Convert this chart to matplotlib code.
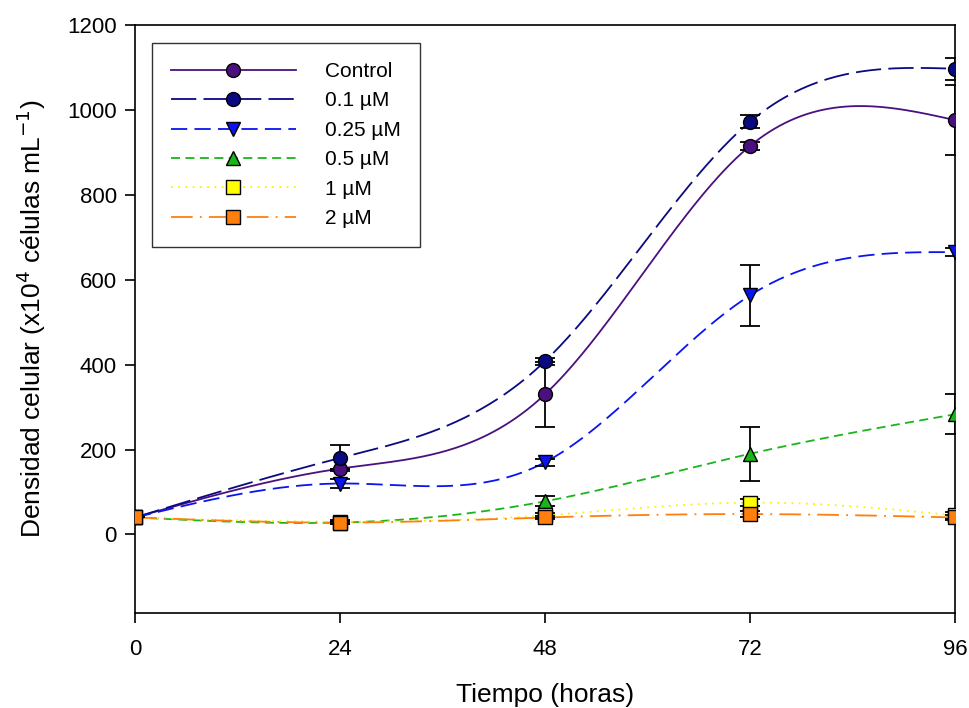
"""
Crecimiento celular bajo distintas concentraciones (curvas suavizadas con spline).
Writes: out.png
"""
import numpy as np
import matplotlib
matplotlib.use("Agg")
import matplotlib.pyplot as plt
from matplotlib.lines import Line2D

plt.rcParams["font.family"] = ["Liberation Sans", "DejaVu Sans"]

# Datos
horas = [0, 24, 48, 72, 96]
labels = ["Control", "0.1 µM", "0.25 µM", "0.5 µM", "1 µM", "2 µM"]

control = [40, 155, 330, 915, 976]
control_err = [0, 0, 77, 10, 82]
c01 = [40, 180, 408, 972, 1097]
c01_err = [0, 30, 8, 15, 26]
c025 = [40, 120, 170, 563, 665]
c025_err = [0, 10, 8, 71, 10]
c05 = [40, 28, 78, 190, 283]
c05_err = [0, 4, 12, 63, 47]
c1 = [40, 30, 45, 75, 45]
c1_err = [0, 4, 6, 8, 8]
c2 = [40, 28, 40, 48, 40]
c2_err = [0, 4, 4, 8, 6]

series = [control, c01, c025, c05, c1, c2]
errors = [control_err, c01_err, c025_err, c05_err, c1_err, c2_err]

colors = ["#4b1080", "#0a0a80", "#0a14f0", "#1ab51a", "#f5f500", "#ff7f0e"]
fills = ["#4b1080", "#0a0a80", "#0a14f0", "#1ab51a", "#ffff00", "#ff7f0e"]
markers = ["o", "o", "v", "^", "s", "s"]
styles = ["-", (0, (14, 4)), (0, (9, 4)), (0, (5, 3)), (0, (1, 3)), (0, (12, 4, 1, 4))]


def natural_spline(x, y, n=300):
    x = np.asarray(x, float)
    y = np.asarray(y, float)
    k = len(x)
    h = np.diff(x)
    A = np.zeros((k, k))
    b = np.zeros(k)
    A[0, 0] = A[-1, -1] = 1
    for i in range(1, k - 1):
        A[i, i - 1] = h[i - 1]
        A[i, i] = 2 * (h[i - 1] + h[i])
        A[i, i + 1] = h[i]
        b[i] = 6 * ((y[i + 1] - y[i]) / h[i] - (y[i] - y[i - 1]) / h[i - 1])
    M = np.linalg.solve(A, b)
    xs = np.linspace(x[0], x[-1], n)
    idx = np.clip(np.searchsorted(x, xs) - 1, 0, k - 2)
    x0, x1 = x[idx], x[idx + 1]
    hh = x1 - x0
    t0, t1 = x1 - xs, xs - x0
    ys = (M[idx] * t0**3 + M[idx + 1] * t1**3) / (6 * hh) \
        + (y[idx] / hh - M[idx] * hh / 6) * t0 \
        + (y[idx + 1] / hh - M[idx + 1] * hh / 6) * t1
    return xs, ys


fig = plt.figure(figsize=(9.69, 7.08), dpi=100)
ax = fig.add_axes([0.1393, 0.1342, 0.8462, 0.8305])

handles = []
for i, (vals, err) in enumerate(zip(series, errors)):
    xs, ys = natural_spline(horas, vals)
    ax.plot(xs, ys, color=colors[i], ls=styles[i], lw=1.3, zorder=2 + i * 0.1)
    ax.errorbar(horas, vals, yerr=err, fmt="none", ecolor="black",
                elinewidth=1.3, capsize=7, capthick=1.3, zorder=3)
    ax.plot(horas, vals, ls="none", marker=markers[i], ms=10,
            mfc=fills[i], mec="black", mew=1, zorder=4 + i * 0.1)
    handles.append(Line2D([], [], color=colors[i], ls=styles[i], lw=1.3,
                          marker=markers[i], ms=10, mfc=fills[i], mec="black", mew=1))

ax.set_xlim(0, 96)
ax.set_ylim(-185, 1200)
ax.set_xticks(horas)
ax.set_yticks(range(0, 1201, 200))
ax.tick_params(axis="both", direction="out", length=7, width=1.2, labelsize=16,
               top=False, right=False, pad=6)
ax.tick_params(axis="x", pad=12)
for s in ax.spines.values():
    s.set_linewidth(1.2)

ax.set_xlabel("Tiempo (horas)", fontsize=19, labelpad=16)
ax.set_ylabel("Densidad celular (x10$^{4}$ células mL$^{-1}$)", fontsize=19, labelpad=14)

leg = ax.legend(handles, labels, loc="upper left", bbox_to_anchor=(0.021, 0.969),
                fontsize=15, handlelength=6.0, handletextpad=1.4, labelspacing=0.5,
                borderpad=0.9, borderaxespad=0, frameon=True, fancybox=False, numpoints=1)
leg.get_frame().set_edgecolor("black")
leg.get_frame().set_linewidth(1.0)

fig.savefig("out.png", dpi=100)
